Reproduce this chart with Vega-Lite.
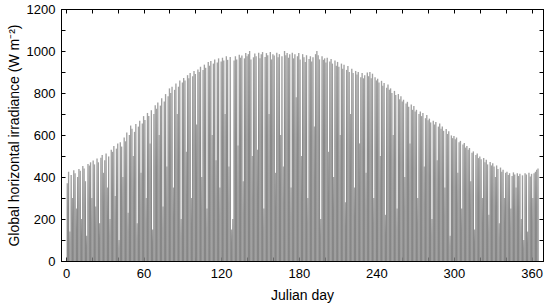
{
  "$schema": "https://vega.github.io/schema/vega-lite/v6.json",
  "width": 482,
  "height": 252,
  "autosize": "none",
  "padding": {"left": 61, "top": 9, "right": 7, "bottom": 46},
  "config": {
    "font": "Liberation Sans",
    "view": {"stroke": "black", "strokeWidth": 1},
    "axis": {"grid": false, "domainColor": "black", "tickColor": "black", "labelColor": "black", "titleColor": "black", "labelFontSize": 13, "titleFontSize": 14, "titleFontWeight": "normal", "tickSize": -4, "labelPadding": 10}
  },
  "data": {"values": [
{"d":1,"g":370},{"d":2,"g":425},{"d":3,"g":140},{"d":4,"g":410},{"d":5,"g":300},{"d":6,"g":432},{"d":7,"g":418},{"d":8,"g":250},{"d":9,"g":400},{"d":10,"g":438},
{"d":11,"g":430},{"d":12,"g":200},{"d":13,"g":452},{"d":14,"g":440},{"d":15,"g":380},{"d":16,"g":120},{"d":17,"g":462},{"d":18,"g":455},{"d":19,"g":470},{"d":20,"g":300},
{"d":21,"g":478},{"d":22,"g":460},{"d":23,"g":260},{"d":24,"g":488},{"d":25,"g":470},{"d":26,"g":180},{"d":27,"g":492},{"d":28,"g":505},{"d":29,"g":420},{"d":30,"g":480},
{"d":31,"g":512},{"d":32,"g":350},{"d":33,"g":498},{"d":34,"g":200},{"d":35,"g":530},{"d":36,"g":520},{"d":37,"g":548},{"d":38,"g":310},{"d":39,"g":535},{"d":40,"g":560},
{"d":41,"g":100},{"d":42,"g":565},{"d":43,"g":545},{"d":44,"g":400},{"d":45,"g":588},{"d":46,"g":570},{"d":47,"g":612},{"d":48,"g":230},{"d":49,"g":600},{"d":50,"g":645},
{"d":51,"g":630},{"d":52,"g":500},{"d":53,"g":615},{"d":54,"g":652},{"d":55,"g":180},{"d":56,"g":640},{"d":57,"g":668},{"d":58,"g":420},{"d":59,"g":655},{"d":60,"g":690},
{"d":61,"g":672},{"d":62,"g":300},{"d":63,"g":705},{"d":64,"g":690},{"d":65,"g":560},{"d":66,"g":718},{"d":67,"g":150},{"d":68,"g":700},{"d":69,"g":742},{"d":70,"g":725},
{"d":71,"g":755},{"d":72,"g":600},{"d":73,"g":740},{"d":74,"g":775},{"d":75,"g":260},{"d":76,"g":760},{"d":77,"g":795},{"d":78,"g":450},{"d":79,"g":785},{"d":80,"g":822},
{"d":81,"g":800},{"d":82,"g":830},{"d":83,"g":350},{"d":84,"g":815},{"d":85,"g":845},{"d":86,"g":700},{"d":87,"g":830},{"d":88,"g":860},{"d":89,"g":200},{"d":90,"g":850},
{"d":91,"g":872},{"d":92,"g":860},{"d":93,"g":520},{"d":94,"g":885},{"d":95,"g":870},{"d":96,"g":895},{"d":97,"g":300},{"d":98,"g":880},{"d":99,"g":905},{"d":100,"g":890},
{"d":101,"g":650},{"d":102,"g":912},{"d":103,"g":900},{"d":104,"g":925},{"d":105,"g":400},{"d":106,"g":910},{"d":107,"g":935},{"d":108,"g":920},{"d":109,"g":250},{"d":110,"g":948},
{"d":111,"g":930},{"d":112,"g":952},{"d":113,"g":600},{"d":114,"g":940},{"d":115,"g":960},{"d":116,"g":480},{"d":117,"g":945},{"d":118,"g":965},{"d":119,"g":350},{"d":120,"g":950},
{"d":121,"g":968},{"d":122,"g":955},{"d":123,"g":700},{"d":124,"g":975},{"d":125,"g":958},{"d":126,"g":450},{"d":127,"g":972},{"d":128,"g":150},{"d":129,"g":200},{"d":130,"g":955},
{"d":131,"g":975},{"d":132,"g":960},{"d":133,"g":550},{"d":134,"g":982},{"d":135,"g":968},{"d":136,"g":978},{"d":137,"g":380},{"d":138,"g":965},{"d":139,"g":990},{"d":140,"g":975},
{"d":141,"g":985},{"d":142,"g":1000},{"d":143,"g":960},{"d":144,"g":500},{"d":145,"g":970},{"d":146,"g":988},{"d":147,"g":975},{"d":148,"g":530},{"d":149,"g":992},{"d":150,"g":965},
{"d":151,"g":985},{"d":152,"g":995},{"d":153,"g":250},{"d":154,"g":972},{"d":155,"g":990},{"d":156,"g":980},{"d":157,"g":700},{"d":158,"g":995},{"d":159,"g":960},{"d":160,"g":985},
{"d":161,"g":978},{"d":162,"g":420},{"d":163,"g":992},{"d":164,"g":970},{"d":165,"g":985},{"d":166,"g":600},{"d":167,"g":975},{"d":168,"g":450},{"d":169,"g":1000},{"d":170,"g":980},
{"d":171,"g":990},{"d":172,"g":968},{"d":173,"g":985},{"d":174,"g":350},{"d":175,"g":992},{"d":176,"g":965},{"d":177,"g":985},{"d":178,"g":780},{"d":179,"g":975},{"d":180,"g":990},
{"d":181,"g":960},{"d":182,"g":500},{"d":183,"g":985},{"d":184,"g":970},{"d":185,"g":948},{"d":186,"g":980},{"d":187,"g":300},{"d":188,"g":962},{"d":189,"g":975},{"d":190,"g":950},
{"d":191,"g":970},{"d":192,"g":640},{"d":193,"g":985},{"d":194,"g":1000},{"d":195,"g":980},{"d":196,"g":960},{"d":197,"g":200},{"d":198,"g":975},{"d":199,"g":958},{"d":200,"g":965},
{"d":201,"g":945},{"d":202,"g":968},{"d":203,"g":520},{"d":204,"g":950},{"d":205,"g":962},{"d":206,"g":940},{"d":207,"g":400},{"d":208,"g":955},{"d":209,"g":930},{"d":210,"g":948},
{"d":211,"g":925},{"d":212,"g":600},{"d":213,"g":940},{"d":214,"g":915},{"d":215,"g":935},{"d":216,"g":280},{"d":217,"g":910},{"d":218,"g":928},{"d":219,"g":900},{"d":220,"g":700},
{"d":221,"g":915},{"d":222,"g":895},{"d":223,"g":350},{"d":224,"g":905},{"d":225,"g":888},{"d":226,"g":900},{"d":227,"g":560},{"d":228,"g":875},{"d":229,"g":895},{"d":230,"g":870},
{"d":231,"g":885},{"d":232,"g":420},{"d":233,"g":898},{"d":234,"g":880},{"d":235,"g":900},{"d":236,"g":870},{"d":237,"g":892},{"d":238,"g":300},{"d":239,"g":875},{"d":240,"g":860},
{"d":241,"g":868},{"d":242,"g":850},{"d":243,"g":500},{"d":244,"g":858},{"d":245,"g":835},{"d":246,"g":848},{"d":247,"g":220},{"d":248,"g":825},{"d":249,"g":840},{"d":250,"g":815},
{"d":251,"g":822},{"d":252,"g":800},{"d":253,"g":600},{"d":254,"g":810},{"d":255,"g":790},{"d":256,"g":250},{"d":257,"g":795},{"d":258,"g":770},{"d":259,"g":785},{"d":260,"g":760},
{"d":261,"g":768},{"d":262,"g":400},{"d":263,"g":750},{"d":264,"g":758},{"d":265,"g":735},{"d":266,"g":560},{"d":267,"g":745},{"d":268,"g":720},{"d":269,"g":738},{"d":270,"g":712},
{"d":271,"g":720},{"d":272,"g":300},{"d":273,"g":700},{"d":274,"g":712},{"d":275,"g":690},{"d":276,"g":705},{"d":277,"g":450},{"d":278,"g":680},{"d":279,"g":695},{"d":280,"g":670},
{"d":281,"g":678},{"d":282,"g":660},{"d":283,"g":200},{"d":284,"g":668},{"d":285,"g":650},{"d":286,"g":662},{"d":287,"g":480},{"d":288,"g":640},{"d":289,"g":655},{"d":290,"g":630},
{"d":291,"g":640},{"d":292,"g":620},{"d":293,"g":350},{"d":294,"g":628},{"d":295,"g":605},{"d":296,"g":618},{"d":297,"g":120},{"d":298,"g":598},{"d":299,"g":585},{"d":300,"g":595},
{"d":301,"g":580},{"d":302,"g":588},{"d":303,"g":420},{"d":304,"g":565},{"d":305,"g":572},{"d":306,"g":250},{"d":307,"g":555},{"d":308,"g":562},{"d":309,"g":540},{"d":310,"g":548},
{"d":311,"g":530},{"d":312,"g":538},{"d":313,"g":380},{"d":314,"g":515},{"d":315,"g":522},{"d":316,"g":150},{"d":317,"g":505},{"d":318,"g":512},{"d":319,"g":490},{"d":320,"g":498},
{"d":321,"g":485},{"d":322,"g":300},{"d":323,"g":490},{"d":324,"g":470},{"d":325,"g":482},{"d":326,"g":460},{"d":327,"g":220},{"d":328,"g":472},{"d":329,"g":455},{"d":330,"g":465},
{"d":331,"g":450},{"d":332,"g":400},{"d":333,"g":455},{"d":334,"g":438},{"d":335,"g":180},{"d":336,"g":445},{"d":337,"g":425},{"d":338,"g":435},{"d":339,"g":300},{"d":340,"g":420},
{"d":341,"g":425},{"d":342,"g":410},{"d":343,"g":418},{"d":344,"g":250},{"d":345,"g":405},{"d":346,"g":422},{"d":347,"g":412},{"d":348,"g":350},{"d":349,"g":418},{"d":350,"g":405},
{"d":351,"g":415},{"d":352,"g":200},{"d":353,"g":408},{"d":354,"g":100},{"d":355,"g":418},{"d":356,"g":412},{"d":357,"g":140},{"d":358,"g":420},{"d":359,"g":402},{"d":360,"g":415},
{"d":361,"g":300},{"d":362,"g":418},{"d":363,"g":425},{"d":364,"g":435},{"d":365,"g":440}
  ]},
  "layer": [
    {
      "mark": {"type": "bar", "width": 1.35, "color": {"gradient": "linear", "x1": 0, "y1": 1, "x2": 0, "y2": 0, "stops": [{"offset": 0, "color": "#868686"}, {"offset": 0.6, "color": "#8a8a8a"}, {"offset": 1, "color": "#a2a2a2"}]}},
      "encoding": {
        "x": {"field": "d", "type": "quantitative", "scale": {"domain": [0, 365], "nice": false, "zero": false},
              "axis": {"orient": "bottom", "title": "Julian day", "values": [0,20,40,60,80,100,120,140,160,180,200,220,240,260,280,300,320,340,360], "labelExpr": "datum.value % 60 == 0 ? datum.label : ''", "titlePadding": 8}},
        "y": {"field": "g", "type": "quantitative", "scale": {"domain": [0, 1200], "nice": false},
              "axis": {"orient": "left", "title": "Global horizontal irradiance (W m⁻²)", "values": [0,100,200,300,400,500,600,700,800,900,1000,1100,1200], "labelExpr": "datum.value % 200 == 0 ? datum.label : ''", "format": "d", "titlePadding": 5}},
        "y2": {"datum": 0}
      }
    },
    {
      "mark": {"type": "rule", "opacity": 0},
      "encoding": {
        "x": {"field": "d", "type": "quantitative",
              "axis": {"orient": "top", "title": null, "labels": false, "values": [0,20,40,60,80,100,120,140,160,180,200,220,240,260,280,300,320,340,360]}},
        "y": {"field": "g", "type": "quantitative",
              "axis": {"orient": "right", "title": null, "labels": false, "values": [0,100,200,300,400,500,600,700,800,900,1000,1100,1200]}},
        "y2": {"datum": 0}
      }
    }
  ],
  "resolve": {"axis": {"x": "independent", "y": "independent"}}
}
